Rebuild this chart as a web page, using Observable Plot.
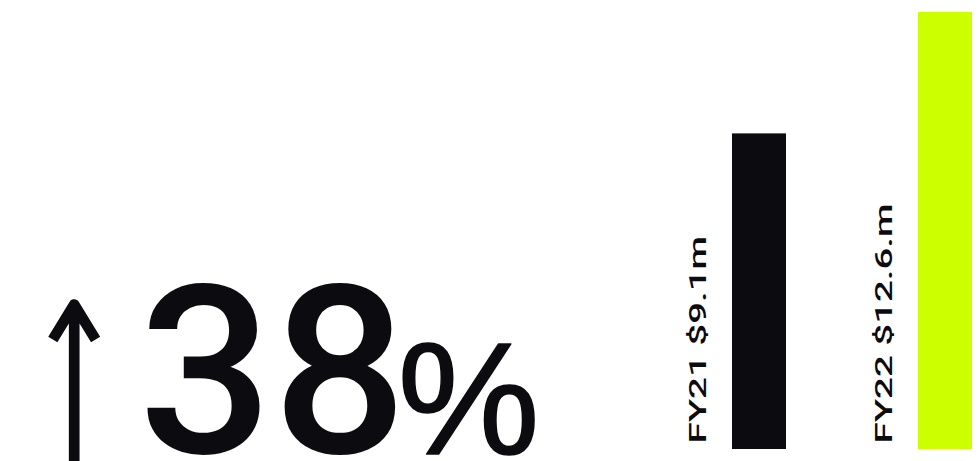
<!DOCTYPE html>
<html><head><meta charset="utf-8">
<script src="https://cdn.jsdelivr.net/npm/d3@7"></script>
<script src="https://cdn.jsdelivr.net/npm/@observablehq/plot@0.6"></script>
<style>html,body{margin:0;padding:0;background:#fff;overflow:hidden}</style>
</head><body><div id="chart"></div>
<script>
const years = ["FY21", "FY22"];
const revenue = [9.1, 12.6];
const labels = ["FY21 $9.1m", "FY22 $12.6.m"];
const barColors = ["#0c0b10", "#ccff00"];
const growthArrow = ["up"];
const growthValue = "38";
const growthUnit = "%";

const data = years.map((y, i) => ({year: y, value: revenue[i], label: labels[i]}));
const ink = "#0c0b10";

// open chevron arrow head, drawn by Plot.vector
const upArrow = {
  draw(context, l) {
    context.moveTo(0, 0);
    context.lineTo(0, -l);
    context.moveTo(-21.4, 35 - l);
    context.lineTo(0, -l);
    context.lineTo(21.4, 35 - l);
  }
};

const plot = Plot.plot({
  width: 978, height: 461,
  marginTop: 0, marginBottom: 0, marginLeft: 0, marginRight: 0,
  x: {domain: years, range: [732, 972], paddingInner: 0.71, paddingOuter: 0, axis: null},
  y: {domain: [0, 12.6], range: [449, 12], axis: null},
  color: {domain: years, range: barColors},
  style: {background: "#fff", overflow: "visible"},
  marks: [
    Plot.barY(data, {x: "year", y: "value", fill: "year"}),
    Plot.text(data, {x: "year", y: 0, text: "label", rotate: -90, textAnchor: "start", lineAnchor: "bottom",
      dx: -54, dy: -6, fontSize: 23, fontWeight: 500, fill: ink, fontFamily: "Roboto", className: "bar-label"}),
    Plot.vector(growthArrow, {frameAnchor: "bottom-left", dx: 73.7, dy: 9, length: 166, rotate: 0, anchor: "start",
      shape: upArrow, stroke: ink, strokeWidth: 10.7, strokeLinecap: "butt", strokeLinejoin: "round"}),
    Plot.text([growthValue], {frameAnchor: "bottom-left", text: d => d, textAnchor: "start", lineAnchor: "bottom",
      dx: 138, dy: -9, fontSize: 236, fontWeight: 500, fill: ink, fontFamily: "Roboto"}),
    Plot.text([growthUnit], {frameAnchor: "bottom-left", text: d => d, textAnchor: "start", lineAnchor: "bottom",
      dx: 397, dy: -8, fontSize: 160, fill: ink, fontFamily: "Liberation Sans", stroke: ink, strokeWidth: 1.5})
  ]
});
document.getElementById("chart").appendChild(plot);
plot.querySelectorAll("g.bar-label text").forEach(t => {
  const len = t.getComputedTextLength();
  t.setAttribute("textLength", len * 1.67);
  t.setAttribute("lengthAdjust", "spacingAndGlyphs");
});
</script></body></html>
